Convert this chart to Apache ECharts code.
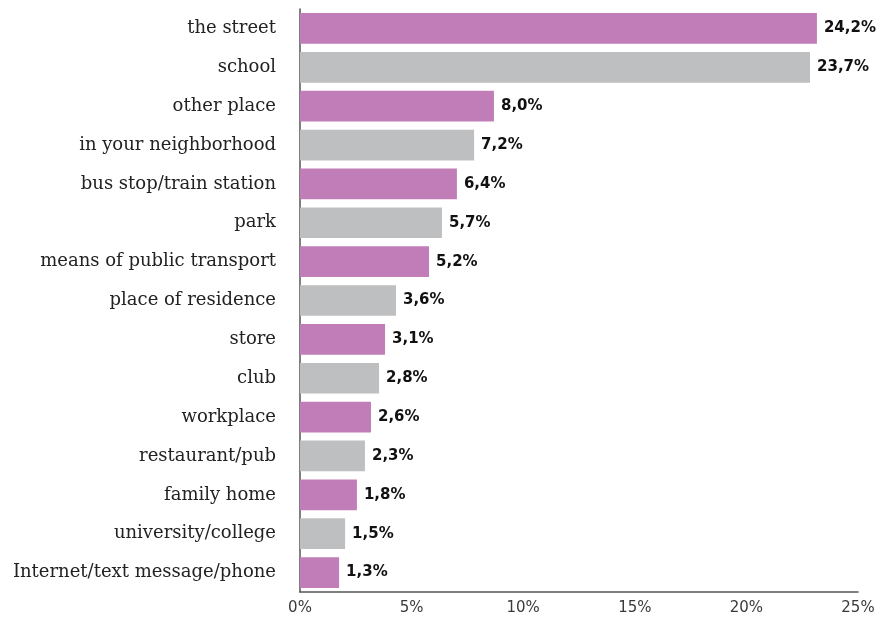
<!DOCTYPE html>
<html><head><meta charset="utf-8">
<script src="https://cdn.jsdelivr.net/npm/echarts@6/dist/echarts.min.js"></script>
<style>html,body{margin:0;padding:0;background:#fff}#c{width:879px;height:618px}</style>
</head><body><div id="c"></div>
<script>
const categories = ["the street","school","other place","in your neighborhood","bus stop/train station","park","means of public transport","place of residence","store","club","workplace","restaurant/pub","family home","university/college","Internet/text message/phone"];
// printed value labels (as shown on the chart)
const valueLabels = ["24,2%","23,7%","8,0%","7,2%","6,4%","5,7%","5,2%","3,6%","3,1%","2,8%","2,6%","2,3%","1,8%","1,5%","1,3%"];
// bar lengths (%)
const barLengths = [23.16,22.85,8.69,7.80,7.03,6.36,5.78,4.30,3.81,3.54,3.18,2.91,2.55,2.02,1.75];
const xTicks = [0,5,10,15,20,25];
const colors = ["#C17DB8","#BEBFC1"];

const chart = echarts.init(document.getElementById('c'), null, {renderer:'canvas'});
chart.setOption({
  animation:false,
  grid:{left:300,right:21,top:9,bottom:26,containLabel:false},
  xAxis:{type:'value',min:xTicks[0],max:xTicks[xTicks.length-1],interval:5,
    axisLine:{show:true,lineStyle:{color:'#555',width:1.5}},
    axisTick:{show:false},splitLine:{show:false},
    axisLabel:{formatter:v=>v+'%',fontFamily:'DejaVu Sans',fontSize:15,color:'#3a3a3a',margin:9}},
  yAxis:{type:'category',data:categories,inverse:true,
    axisLine:{show:true,lineStyle:{color:'#555',width:1.5}},
    axisTick:{show:false},
    axisLabel:{fontFamily:'DejaVu Serif',fontSize:18,color:'#222',margin:24}},
  series:[{type:'bar',data:barLengths.map((v,i)=>({value:v,itemStyle:{color:colors[i%2]}})),
    barCategoryGap:'21%',
    label:{show:true,position:'right',distance:7,formatter:p=>valueLabels[p.dataIndex],
      fontFamily:'DejaVu Sans',fontWeight:'bold',fontSize:15,color:'#111'}}]
});
</script></body></html>
